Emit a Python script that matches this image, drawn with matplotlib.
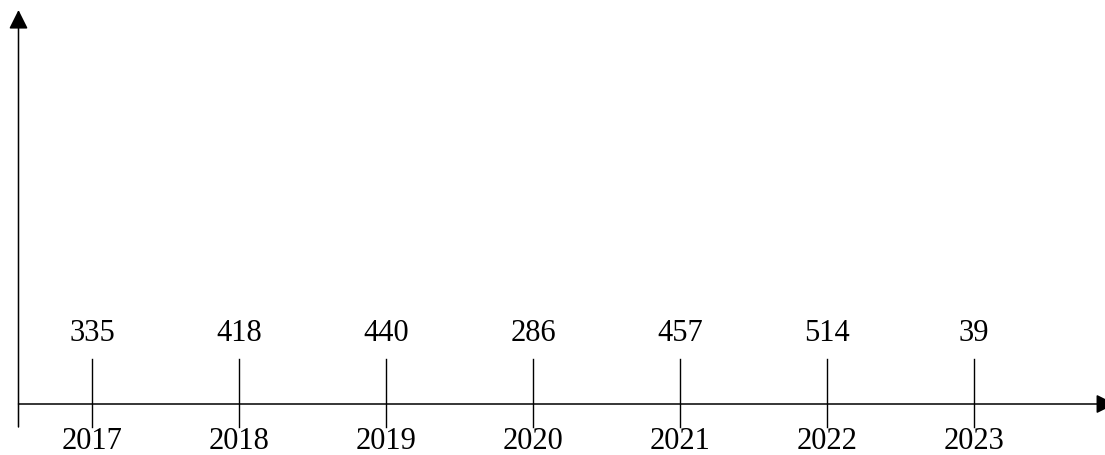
import matplotlib.pyplot as plt

# values
years = [2017, 2018, 2019, 2020, 2021, 2022, 2023]
counts = ['335', '418', '440', '286', '457', '514', '39']

plt.rcParams['font.family'] = ['Liberation Serif', 'DejaVu Serif']

fig = plt.figure(figsize=(11.05, 4.56), dpi=100)
ax = fig.add_axes([0, 0, 1, 1])
ax.axis('off')

# one year step is about 147 px wide, first year sits at x=92 px
step_px = 147.0
x0 = years[0] - 92 / step_px
ax.set_xlim(x0, x0 + 1105 / step_px)
ax.set_ylim(456, 0)  # y measured in pixels from the top

axis_x = years[0] - 0.5
axis_y = 405
arrow = dict(arrowstyle='-|>', color='black', lw=1.1,
             mutation_scale=29, shrinkA=0, shrinkB=0)

# y axis with arrow on top, runs a bit below the x axis
ax.annotate('', xy=(axis_x, 11), xytext=(axis_x, 428), arrowprops=arrow)
# x axis with arrow on the right (tip falls just outside the canvas)
ax.annotate('', xy=(years[-1] + 0.96, axis_y), xytext=(axis_x, axis_y),
            arrowprops=arrow, annotation_clip=False)

for yr, c in zip(years, counts):
    ax.plot([yr, yr], [360, 428], color='black', lw=1.0)
    ax.text(yr, 333.5, c, ha='center', va='center', fontsize=22)
    ax.text(yr, 442, str(yr), ha='center', va='center', fontsize=22)

plt.savefig('out.png', dpi=100)
